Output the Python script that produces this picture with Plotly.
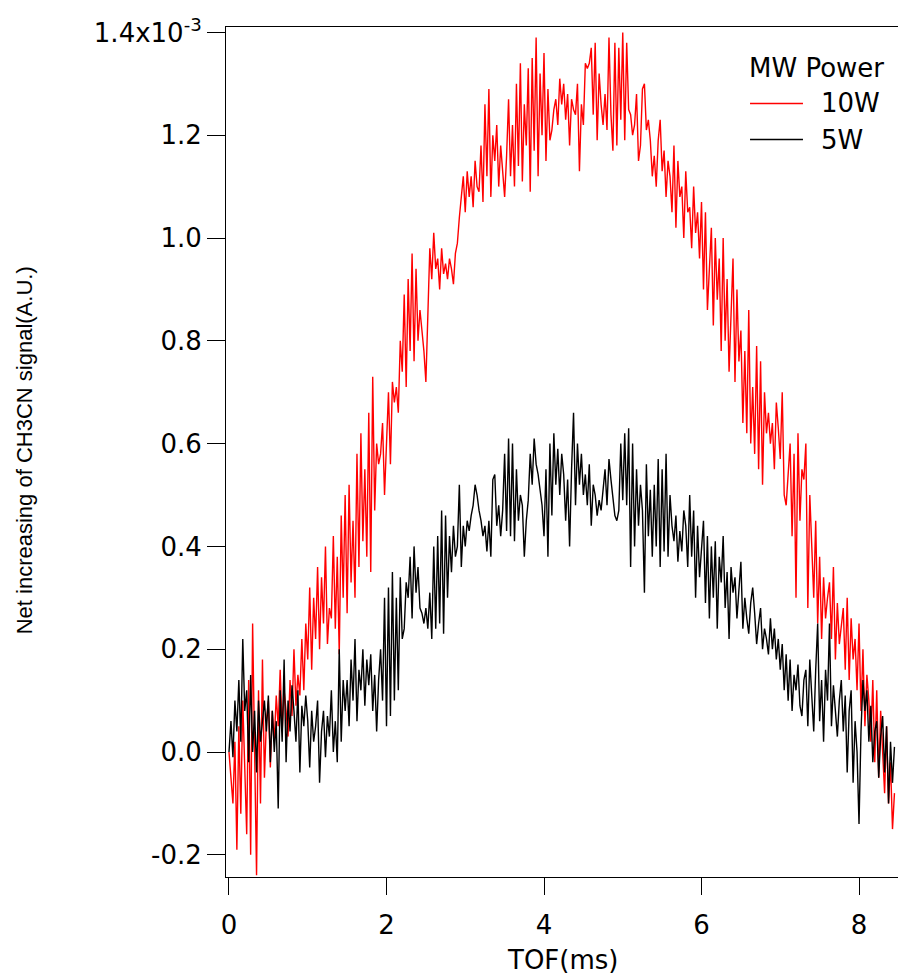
import numpy as np
import plotly.graph_objects as go

# Sampling step of the time-of-flight traces (ms)
TOF_STEP_MS = 0.025

# Net increase of CH3CN signal, in units of 1e-3 (A.U.), one value per 0.025 ms from 0 ms
signal_10w = [
    0.00, -0.05, -0.10, 0.02, -0.19, 0.05, -0.12, 0.10, -0.03, -0.16, 0.14, -0.20, 0.25, 0.02, -0.24, 0.12, -0.10, 0.18, -0.05, 0.06,
    0.10, -0.03, 0.08, 0.02, 0.11, 0.05, 0.16, 0.04, 0.12, 0.08, 0.03, 0.14, 0.07, 0.20, 0.09, 0.15, 0.11, 0.22, 0.12, 0.25,
    0.18, 0.32, 0.16, 0.30, 0.22, 0.36, 0.20, 0.34, 0.25, 0.40, 0.21, 0.28, 0.26, 0.42, 0.24, 0.38, 0.19, 0.46, 0.30, 0.50,
    0.27, 0.52, 0.33, 0.45, 0.30, 0.58, 0.36, 0.62, 0.41, 0.55, 0.38, 0.66, 0.35, 0.73, 0.47, 0.60, 0.56, 0.58, 0.64, 0.50,
    0.62, 0.70, 0.56, 0.72, 0.68, 0.71, 0.66, 0.80, 0.74, 0.89, 0.71, 0.92, 0.78, 0.97, 0.76, 0.94, 0.80, 0.86, 0.82, 0.78,
    0.72, 0.85, 0.98, 0.92, 1.01, 0.94, 0.96, 0.90, 0.98, 0.93, 0.95, 0.92, 0.96, 0.94, 0.91, 0.97, 0.99, 1.04, 1.08, 1.12,
    1.05, 1.13, 1.08, 1.12, 1.06, 1.15, 1.10, 1.09, 1.18, 1.07, 1.26, 1.12, 1.29, 1.08, 1.20, 1.15, 1.22, 1.10, 1.18, 1.13,
    1.08, 1.16, 1.27, 1.12, 1.22, 1.10, 1.30, 1.14, 1.34, 1.11, 1.26, 1.18, 1.33, 1.09, 1.35, 1.17, 1.39, 1.12, 1.32, 1.20,
    1.36, 1.15, 1.29, 1.19, 1.21, 1.25, 1.27, 1.22, 1.31, 1.26, 1.30, 1.23, 1.28, 1.18, 1.27, 1.25, 1.24, 1.30, 1.13, 1.26,
    1.22, 1.34, 1.33, 1.34, 1.37, 1.24, 1.38, 1.19, 1.32, 1.26, 1.22, 1.28, 1.21, 1.39, 1.24, 1.17, 1.38, 1.18, 1.37, 1.23,
    1.40, 1.19, 1.38, 1.25, 1.24, 1.20, 1.22, 1.28, 1.15, 1.18, 1.29, 1.30, 1.21, 1.23, 1.19, 1.12, 1.16, 1.10, 1.19, 1.23,
    1.13, 1.17, 1.08, 1.15, 1.12, 1.05, 1.18, 1.02, 1.15, 1.08, 1.10, 1.00, 1.13, 1.05, 1.06, 0.98, 1.10, 1.01, 1.05, 0.96,
    1.07, 0.90, 1.05, 0.86, 0.94, 1.02, 0.83, 1.00, 0.88, 0.96, 0.78, 1.00, 0.80, 0.92, 0.74, 0.84, 0.96, 0.72, 0.90, 0.76,
    0.82, 0.64, 0.78, 0.62, 0.86, 0.60, 0.71, 0.58, 0.79, 0.55, 0.76, 0.52, 0.70, 0.62, 0.66, 0.60, 0.64, 0.55, 0.68, 0.63,
    0.57, 0.70, 0.50, 0.48, 0.55, 0.60, 0.42, 0.58, 0.30, 0.62, 0.45, 0.55, 0.53, 0.60, 0.28, 0.50, 0.40, 0.30, 0.45, 0.25,
    0.38, 0.22, 0.34, 0.26, 0.30, 0.33, 0.22, 0.36, 0.18, 0.29, 0.21, 0.24, 0.28, 0.16, 0.30, 0.14, 0.26, 0.18, 0.22, 0.12,
    0.25, 0.08, 0.20, 0.05, 0.15, 0.10, 0.02, 0.14, -0.02, 0.12, -0.05, 0.08, 0.00, -0.08, 0.05, -0.10, -0.02, -0.15, -0.08,
]

signal_5w = [
    0.00, 0.06, -0.01, 0.10, 0.04, 0.14, 0.02, 0.22, 0.08, 0.12, -0.02, 0.15, 0.00, 0.08, -0.04, 0.10, 0.02, 0.06, 0.10, 0.04,
    0.11, -0.02, 0.08, 0.00, 0.06, -0.11, 0.12, 0.02, 0.18, -0.02, 0.10, 0.04, 0.13, 0.08, 0.02, 0.12, -0.04, 0.09, 0.05, 0.11,
    0.06, -0.03, 0.08, 0.02, 0.05, 0.10, -0.06, 0.04, 0.08, -0.01, 0.07, 0.03, 0.12, 0.00, 0.06, -0.02, 0.20, 0.02, 0.14, 0.08,
    0.14, 0.05, 0.18, 0.10, 0.22, 0.06, 0.16, 0.12, 0.20, 0.09, 0.18, 0.13, 0.19, 0.08, 0.15, 0.04, 0.14, 0.20, 0.10, 0.30,
    0.05, 0.32, 0.07, 0.35, 0.10, 0.30, 0.12, 0.34, 0.22, 0.24, 0.33, 0.30, 0.38, 0.26, 0.40, 0.31, 0.36, 0.28, 0.27, 0.25,
    0.28, 0.24, 0.31, 0.22, 0.40, 0.24, 0.42, 0.25, 0.47, 0.23, 0.46, 0.30, 0.42, 0.35, 0.44, 0.38, 0.40, 0.52, 0.36, 0.44,
    0.40, 0.45, 0.43, 0.46, 0.48, 0.52, 0.50, 0.47, 0.45, 0.42, 0.44, 0.39, 0.45, 0.38, 0.53, 0.54, 0.44, 0.48, 0.42, 0.47,
    0.58, 0.43, 0.61, 0.42, 0.60, 0.41, 0.55, 0.45, 0.50, 0.48, 0.38, 0.45, 0.49, 0.58, 0.52, 0.61, 0.56, 0.54, 0.51, 0.48,
    0.42, 0.55, 0.38, 0.60, 0.46, 0.62, 0.52, 0.59, 0.50, 0.58, 0.54, 0.45, 0.53, 0.40, 0.55, 0.66, 0.48, 0.60, 0.52, 0.58,
    0.50, 0.54, 0.48, 0.56, 0.44, 0.52, 0.50, 0.46, 0.49, 0.47, 0.51, 0.55, 0.48, 0.57, 0.53, 0.50, 0.46, 0.45, 0.47, 0.60,
    0.49, 0.62, 0.48, 0.63, 0.36, 0.60, 0.40, 0.55, 0.44, 0.52, 0.47, 0.31, 0.56, 0.42, 0.51, 0.38, 0.52, 0.40, 0.57, 0.36,
    0.55, 0.39, 0.58, 0.38, 0.50, 0.44, 0.41, 0.46, 0.37, 0.43, 0.39, 0.47, 0.44, 0.36, 0.50, 0.38, 0.47, 0.30, 0.44, 0.34,
    0.40, 0.45, 0.29, 0.42, 0.26, 0.40, 0.30, 0.41, 0.24, 0.38, 0.33, 0.42, 0.28, 0.35, 0.22, 0.36, 0.31, 0.34, 0.26, 0.32,
    0.37, 0.24, 0.30, 0.26, 0.23, 0.29, 0.32, 0.27, 0.21, 0.25, 0.28, 0.20, 0.24, 0.22, 0.19, 0.26, 0.20, 0.24, 0.18, 0.22,
    0.16, 0.21, 0.12, 0.19, 0.10, 0.18, 0.08, 0.15, 0.12, 0.17, 0.09, 0.07, 0.14, 0.16, 0.05, 0.18, 0.12, 0.04, 0.16, 0.25,
    0.06, 0.14, 0.02, 0.16, 0.10, 0.25, 0.05, 0.13, 0.08, 0.03, 0.10, 0.14, 0.04, 0.11, -0.04, 0.08, 0.12, -0.06, 0.06, 0.00,
    -0.14, 0.04, 0.14, 0.08, 0.12, 0.02, 0.09, -0.02, 0.04, 0.06, -0.05, 0.03, 0.07, -0.04, 0.05, -0.10, 0.02, -0.06, 0.01,
]

# Time axis for each trace (ms)
tof_10w = np.round(np.arange(len(signal_10w)) * TOF_STEP_MS, 4)
tof_5w = np.round(np.arange(len(signal_5w)) * TOF_STEP_MS, 4)

series_names = ["10W", "5W"]
series_colors = ["#ff0000", "#000000"]
legend_title = "MW Power"

x_tick_vals = [0, 2, 4, 6, 8]
y_tick_vals = [-0.2, 0.0, 0.2, 0.4, 0.6, 0.8, 1.0, 1.2, 1.4]
y_tick_text = ["-0.2", "0.0", "0.2", "0.4", "0.6", "0.8", "1.0", "1.2", "1.4x10<sup>-3</sup>"]

LINE_WIDTH = 1.4
TICK_FONT = dict(family="DejaVu Sans", size=26, color="#000000")
AXIS_STYLE = dict(
    showline=True, linecolor="#000000", linewidth=1,
    ticks="outside", tickwidth=1, tickcolor="#000000",
    showgrid=False, zeroline=False, tickfont=TICK_FONT,
)

fig = go.Figure()
for name, color, xs, ys in [
    (series_names[0], series_colors[0], tof_10w, signal_10w),
    (series_names[1], series_colors[1], tof_5w, signal_5w),
]:
    fig.add_trace(go.Scatter(
        x=xs, y=ys, mode="lines", name=name,
        line=dict(color=color, width=LINE_WIDTH),
        showlegend=False,
    ))

fig.update_layout(
    width=898, height=978, autosize=False,
    margin=dict(l=226, r=0, t=27, b=101, pad=0),
    paper_bgcolor="#ffffff", plot_bgcolor="#ffffff",
    xaxis=dict(range=[-0.038, 8.495], tickvals=x_tick_vals, ticklen=17,
               ticklabelstandoff=8, mirror=True, **AXIS_STYLE),
    yaxis=dict(range=[-0.2432, 1.4105], tickvals=y_tick_vals, ticktext=y_tick_text,
               ticklen=18, **AXIS_STYLE),
)

# Axis titles
fig.add_annotation(
    text="TOF(ms)", xref="paper", yref="paper", x=0.5, y=-0.0976,
    xanchor="center", yanchor="middle", showarrow=False,
    font=dict(family="DejaVu Sans", size=26, color="#000000"),
)
fig.add_annotation(
    text="Net increasing of CH3CN signal(A.U.)", xref="paper", yref="paper",
    x=-0.3006, y=0.502, xanchor="center", yanchor="middle", textangle=-90,
    showarrow=False, font=dict(family="Liberation Sans", size=22, color="#000000"),
)

# Legend box drawn in the upper right of the plot area
LEG_FONT = dict(family="DejaVu Sans", size=26, color="#000000")
fig.add_annotation(
    text=legend_title, xref="paper", yref="paper", x=0.7753, y=0.9518,
    xanchor="left", yanchor="middle", showarrow=False, font=LEG_FONT,
)
legend_rows_y = [0.91, 0.8676]
for name, color, ly in zip(series_names, series_colors, legend_rows_y):
    fig.add_shape(type="line", xref="paper", yref="paper",
                  x0=0.7798, x1=0.8586, y0=ly, y1=ly,
                  line=dict(color=color, width=LINE_WIDTH))
    fig.add_annotation(
        text=name, xref="paper", yref="paper", x=0.8824, y=ly,
        xanchor="left", yanchor="middle", showarrow=False, font=LEG_FONT,
    )

fig.write_html("out.html")
